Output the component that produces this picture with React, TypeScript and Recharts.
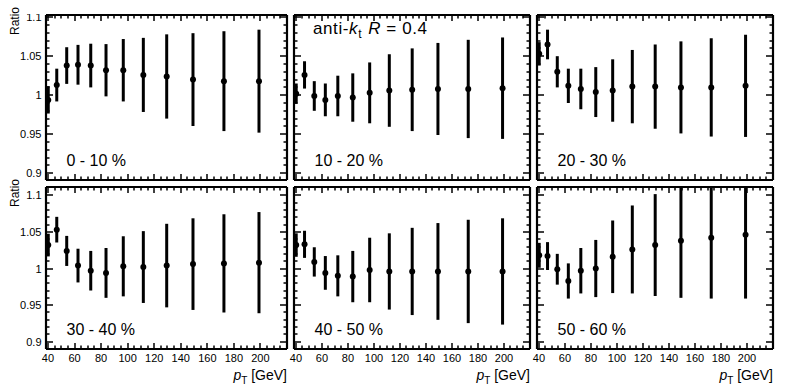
import { ScatterChart, Scatter, XAxis, YAxis, ErrorBar } from 'recharts';

// jet pT bin centres (GeV)
const PT = [40.2, 46.6, 54.1, 62.6, 72.2, 83.7, 96.7, 111.8, 129.4, 149.2, 172.5, 198.9];

const CENT_LABELS = ['0 - 10 %', '10 - 20 %', '20 - 30 %', '30 - 40 %', '40 - 50 %', '50 - 60 %'];

const RATIO_0_10 = [0.994, 1.013, 1.038, 1.039, 1.038, 1.032, 1.032, 1.026, 1.024, 1.02, 1.018, 1.018];
const ERR_0_10 = [0.0175, 0.021, 0.0235, 0.0255, 0.028, 0.0335, 0.04, 0.0475, 0.054, 0.0595, 0.064, 0.066];

const RATIO_10_20 = [1.002, 1.026, 0.999, 0.994, 0.999, 0.997, 1.003, 1.006, 1.007, 1.008, 1.008, 1.009];
const ERR_10_20 = [0.013, 0.0175, 0.019, 0.021, 0.026, 0.031, 0.039, 0.0465, 0.053, 0.059, 0.063, 0.065];

const RATIO_20_30 = [1.053, 1.065, 1.03, 1.012, 1.008, 1.004, 1.006, 1.011, 1.011, 1.01, 1.01, 1.012];
const ERR_20_30 = [0.015, 0.019, 0.02, 0.022, 0.026, 0.032, 0.04, 0.047, 0.054, 0.059, 0.063, 0.0655];

const RATIO_30_40 = [1.032, 1.053, 1.024, 1.004, 0.997, 0.994, 1.003, 1.002, 1.004, 1.006, 1.007, 1.008];
const ERR_30_40 = [0.0155, 0.0175, 0.0205, 0.023, 0.027, 0.034, 0.041, 0.049, 0.057, 0.0625, 0.067, 0.069];

const RATIO_40_50 = [1.032, 1.033, 1.009, 0.994, 0.99, 0.989, 0.998, 0.996, 0.996, 0.996, 0.996, 0.996];
const ERR_40_50 = [0.016, 0.0185, 0.02, 0.023, 0.028, 0.035, 0.044, 0.052, 0.0595, 0.066, 0.0705, 0.0725];

const RATIO_50_60 = [1.018, 1.017, 0.999, 0.983, 0.997, 1.0, 1.016, 1.026, 1.032, 1.038, 1.042, 1.046];
const ERR_50_60 = [0.017, 0.019, 0.021, 0.024, 0.031, 0.039, 0.0495, 0.06, 0.0695, 0.078, 0.083, 0.087];

const X_TICKS = [40, 45, 50, 55, 60, 65, 70, 75, 80, 85, 90, 95, 100, 105, 110, 115, 120, 125, 130, 135, 140, 145, 150, 155, 160, 165, 170, 175, 180, 185, 190, 195, 200, 205, 210, 215];
const X_LABELS = [40, 60, 80, 100, 120, 140, 160, 180, 200];
const Y_TICKS = [0.9, 0.91, 0.92, 0.93, 0.94, 0.95, 0.96, 0.97, 0.98, 0.99, 1, 1.01, 1.02, 1.03, 1.04, 1.05, 1.06, 1.07, 1.08, 1.09, 1.1];
const Y_LABELS = [0.9, 0.95, 1, 1.05, 1.1];

const X_DOMAIN = [38.5, 220];
const FONT = '"Liberation Sans", Arial, Helvetica, sans-serif';

const COLS = [
  { left: 46, width: 241 },
  { left: 294, width: 236 },
  { left: 537, width: 236 },
];
const ROWS = [
  { top: 15, height: 165, domain: [0.8913, 1.1028] },
  { top: 187, height: 162, domain: [0.8902, 1.1112] },
];

// space around each frame inside its own svg
const ML = 50;
const MR = 10;
const MT = 10;
const MB = 20;

const frameLine = { stroke: '#000', strokeWidth: 2.2 };

const isMajorX = (v: number) => X_LABELS.includes(v);
const isMajorY = (v: number) => Y_LABELS.some((l) => Math.abs(l - v) < 1e-9);

const XTick = (props: any) => {
  const { x, y, payload, side, showLabel } = props;
  const major = isMajorX(payload.value);
  const len = major ? 6 : 3.5;
  const end = side === 'bottom' ? y - len : y + len;
  const xr = Math.round(x);
  return (
    <g>
      <path d={`M${xr},${y}L${xr},${end}`} stroke="#000" strokeWidth={1.5} fill="none" />
      {showLabel && major && (
        <text x={x} y={y + 12.5} textAnchor="middle" fontSize={11} fontFamily={FONT} fill="#000">
          {payload.value}
        </text>
      )}
    </g>
  );
};

const YTick = (props: any) => {
  const { x, y, payload, side, showLabel } = props;
  const major = isMajorY(payload.value);
  const len = major ? 7 : 3.5;
  const end = side === 'left' ? x + len : x - len;
  const yr = Math.round(y);
  return (
    <g>
      <path d={`M${x},${yr}L${end},${yr}`} stroke="#000" strokeWidth={1.5} fill="none" />
      {showLabel && major && (
        <text x={x - 4.5} y={y + 4} textAnchor="end" fontSize={11} fontFamily={FONT} fill="#000">
          {String(payload.value)}
        </text>
      )}
    </g>
  );
};

const Dot = (props: any) => <circle cx={props.cx} cy={props.cy} r={3} fill="#000" />;
const NoDot = () => <g />;

interface PanelProps {
  col: number;
  row: number;
  values: number[];
  errors: number[];
}

const Panel = ({ col, row, values, errors }: PanelProps) => {
  const c = COLS[col];
  const r = ROWS[row];
  const data = PT.map((x, i) => ({ x, y: values[i], err: errors[i] }));

  return (
    <div
      style={{
        position: 'absolute',
        left: c.left - ML,
        top: r.top - MT,
        // error bars that run past the top of the frame are cut there
        clipPath: `inset(${MT - 1}px 0px 0px 0px)`,
      }}
    >
      <ScatterChart
        width={c.width + ML + MR}
        height={r.height + MT + MB}
        margin={{ top: MT - 1, right: MR - 1, bottom: 0, left: 0 }}
      >
        <XAxis
          xAxisId="b"
          type="number"
          dataKey="x"
          orientation="bottom"
          domain={X_DOMAIN}
          ticks={X_TICKS}
          interval={0}
          height={MB}
          tickSize={0}
          tickMargin={0}
          tickLine={false}
          axisLine={frameLine}
          tick={(p: any) => <XTick {...p} side="bottom" showLabel={row === 1} />}
        />
        <XAxis
          xAxisId="t"
          type="number"
          dataKey="x"
          orientation="top"
          domain={X_DOMAIN}
          ticks={X_TICKS}
          interval={0}
          height={1}
          tickSize={0}
          tickMargin={0}
          tickLine={false}
          axisLine={frameLine}
          tick={(p: any) => <XTick {...p} side="top" showLabel={false} />}
        />
        <YAxis
          yAxisId="l"
          type="number"
          dataKey="y"
          orientation="left"
          domain={r.domain}
          allowDataOverflow
          ticks={Y_TICKS}
          interval={0}
          width={ML}
          tickSize={0}
          tickMargin={0}
          tickLine={false}
          axisLine={frameLine}
          tick={(p: any) => <YTick {...p} side="left" showLabel={col === 0} />}
        />
        <YAxis
          yAxisId="r"
          type="number"
          dataKey="y"
          orientation="right"
          domain={r.domain}
          allowDataOverflow
          ticks={Y_TICKS}
          interval={0}
          width={1}
          tickSize={0}
          tickMargin={0}
          tickLine={false}
          axisLine={frameLine}
          tick={(p: any) => <YTick {...p} side="right" showLabel={false} />}
        />
        <Scatter xAxisId="t" yAxisId="r" data={data} shape={NoDot} isAnimationActive={false} />
        <Scatter xAxisId="b" yAxisId="l" data={data} shape={Dot} isAnimationActive={false}>
          <ErrorBar dataKey="err" direction="y" width={0} strokeWidth={3} stroke="#000" isAnimationActive={false} />
        </Scatter>
      </ScatterChart>
    </div>
  );
};

const PANELS = [
  { col: 0, row: 0, values: RATIO_0_10, errors: ERR_0_10 },
  { col: 1, row: 0, values: RATIO_10_20, errors: ERR_10_20 },
  { col: 2, row: 0, values: RATIO_20_30, errors: ERR_20_30 },
  { col: 0, row: 1, values: RATIO_30_40, errors: ERR_30_40 },
  { col: 1, row: 1, values: RATIO_40_50, errors: ERR_40_50 },
  { col: 2, row: 1, values: RATIO_50_60, errors: ERR_50_60 },
];

const App = () => {
  return (
    <div style={{ position: 'absolute', left: 0, top: 0, width: 810, height: 387, background: '#fff', fontFamily: FONT }}>
      {PANELS.map((p, i) => (
        <Panel key={i} {...p} />
      ))}
      <svg width={810} height={387} style={{ position: 'absolute', left: 0, top: 0, pointerEvents: 'none' }} fontFamily={FONT}>
        {ROWS.map((r, i) => (
          <text key={`ratio-${i}`} transform={`translate(18.5,${r.top - 8}) rotate(-90)`} textAnchor="end" fontSize={12} fill="#000">
            Ratio
          </text>
        ))}
        {PANELS.map((p, i) => (
          <text
            key={`cent-${i}`}
            x={COLS[p.col].left + 20.5}
            y={p.row === 0 ? 166 : 335}
            fontSize={16}
            fill="#000"
          >
            {CENT_LABELS[i]}
          </text>
        ))}
        {COLS.map((c, i) => (
          <text key={`pt-${i}`} x={c.left + c.width} y={380} textAnchor="end" fontSize={14} fill="#000">
            <tspan fontStyle="italic">p</tspan>
            <tspan fontSize={10} dy={4}>T</tspan>
            <tspan dy={-4}> [GeV]</tspan>
          </text>
        ))}
        <text x={313} y={34} fontSize={17} letterSpacing={0.6} fill="#000">
          anti-<tspan fontStyle="italic">k</tspan>
          <tspan fontSize={12} dy={4}>t</tspan>
          <tspan dy={-4} dx={6} fontStyle="italic">R</tspan>
          <tspan> = 0.4</tspan>
        </text>
      </svg>
    </div>
  );
};

export default App;
